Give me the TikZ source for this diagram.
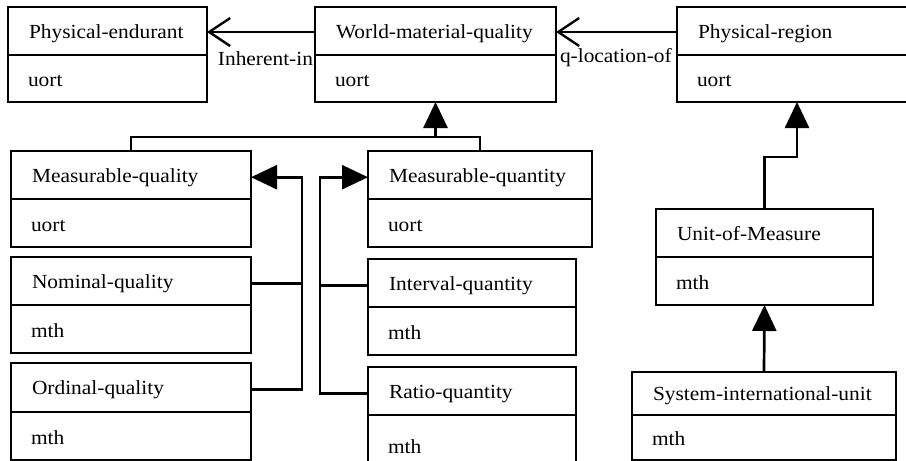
\documentclass[tikz,border=0pt]{standalone}
\usepackage{fontspec}
\setmainfont{Liberation Serif}[FakeStretch=1.07]
\usetikzlibrary{arrows.meta,calc}
\tikzset{
 classbox/.style={draw, line width=1.3pt, rectangle, inner sep=0pt, outer sep=0pt},
 divline/.style={line width=1.3pt},
 lbl/.style={inner sep=0pt, outer sep=0pt, font=\fontsize{20}{24}\selectfont},
 conn/.style={line width=2.7pt},
 gen/.style={conn, -{Triangle[length=26pt,width=24pt]}},
 assoc/.style={conn, -{Straight Barb[length=21pt,width=28pt,line width=2.4pt]}},
}
% name, x1, y1, x2, ydiv, y2, title, body
\newcommand\umlclass[8]{%
 \node[classbox, minimum width={#4-#2}, minimum height={#6-#3}, anchor=north west] (#1) at (#2,#3) {};
 \draw[divline] (#2,#5) -- (#4,#5);
 \node[lbl, anchor=base west] (#1-t) at ({#2+21},{(#3+#5)/2+7}) {#7};
 \node[lbl, anchor=base west] (#1-b) at ({#2+20},{(#5+#6)/2+8}) {#8};
}
\begin{document}
\begin{tikzpicture}[x=1pt,y=-1pt]
\clip (0,0) rectangle (906,461);
\fill[white] (0,0) rectangle (906,461);

\umlclass{pe}{8}{7}{207}{55}{102}{Physical-endurant}{uort}
\umlclass{wmq}{315}{7}{556}{55}{102}{World-material-quality}{uort}
\umlclass{pr}{677}{7}{917}{55}{102}{Physical-region}{uort}
\umlclass{mq}{11}{151}{251}{199}{247}{Measurable-quality}{uort}
\umlclass{mqt}{368}{151}{592}{199}{247}{Measurable-quantity}{uort}
\umlclass{nq}{11}{257}{251}{305}{353}{Nominal-quality}{mth}
\umlclass{oq}{11}{363}{251}{412}{460}{Ordinal-quality}{mth}
\umlclass{iq}{368}{259}{576}{307}{355}{Interval-quantity}{mth}
\umlclass{rq}{368}{367}{576}{415}{475}{Ratio-quantity}{mth}
\umlclass{uom}{656}{209}{873}{257}{305}{Unit-of-Measure}{mth}
\umlclass{si}{632}{372}{896}{415}{460}{System-international-unit}{mth}

% associations
\coordinate (a1) at ($(wmq.north west)+(0,25)$);
\draw[assoc] (a1) -- (a1 -| pe.east);
\node[lbl, anchor=base east] (lin) at ($(wmq.north west)+(-2,58)$) {Inherent-in};
\coordinate (a2) at ($(pr.north west)+(0,25)$);
\draw[assoc] (a2) -- (a2 -| wmq.east);
\node[lbl, anchor=base west] (lql) at ($(wmq.north east)+(4,55)$) {q-location-of};

% generalisation to World-material-quality
\coordinate (j1) at ($(wmq.south)+(0,35)$);
\draw[conn] (mq.north) |- (j1) -| (mqt.north);
\draw[gen] (j1) -- (wmq.south);

% left group
\coordinate (bl) at ($(mq.east)+(51,0)$);
\draw[conn] (nq.east |- nq-t.west) -- (nq-t.west -| bl);
\draw[gen] (oq.east |- oq-t.west) -| (bl |- mq-t.west) -- (mq.east |- mq-t.west);

% right group
\coordinate (br) at ($(mqt.west)+(-48,0)$);
\draw[conn] (iq.west |- iq-t.west) -- (iq-t.west -| br);
\draw[gen] (rq.west |- rq-t.west) -| (br |- mqt-t.west) -- (mqt.west |- mqt-t.west);

% unit of measure
\draw[gen] (uom.north) -- ++(0,-52) -| (pr.south);
\draw[gen] (si.north) -- (uom.south);
\end{tikzpicture}
\end{document}
